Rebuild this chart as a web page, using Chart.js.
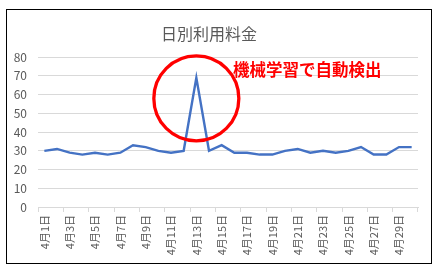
<!DOCTYPE html>
<html>
<head>
<meta charset="utf-8">
<script src="https://cdn.jsdelivr.net/npm/chart.js@4"></script>
<style>
  html, body { margin: 0; padding: 0; background: #fff; }
  #wrap { position: relative; width: 437px; height: 269px; }
</style>
</head>
<body>
<div id="wrap"><canvas id="chart" width="437" height="269"></canvas></div>
<script>
// 日別の料金 (4月1日〜4月30日)
const days = [];
for (let d = 1; d <= 30; d++) days.push('4月' + d + '日');
const fees = [30, 31, 29, 28, 29, 28, 29, 33, 32, 30,
              29, 30, 69, 30, 33, 29, 29, 28, 28, 30,
              31, 29, 30, 29, 30, 32, 28, 28, 32, 32];
const yTicks = [0, 10, 20, 30, 40, 50, 60, 70, 80];
const chartTitle = '日別利用料金';
const noteText = '機械学習で自動検出';
const anomalyIndex = 12;
const circleValue = 58;

const FONT = '"Noto Sans CJK JP", "Noto Sans", sans-serif';

// 外枠・赤丸・注記を描く
const annotate = {
    id: 'annotate',
    afterDraw(chart) {
        const ctx = chart.ctx;
        const x = chart.scales.x.getPixelForValue(anomalyIndex);
        const y = chart.scales.y.getPixelForValue(circleValue);
        ctx.save();
        ctx.strokeStyle = '#ff0000';
        ctx.lineWidth = 3.3;
        ctx.beginPath();
        ctx.arc(x, y, 42.5, 0, Math.PI * 2);
        ctx.stroke();

        ctx.fillStyle = '#ff0000';
        ctx.font = 'bold 16.5px ' + FONT;
        ctx.textBaseline = 'middle';
        ctx.textAlign = 'left';
        ctx.fillText(noteText, 233, 70);

        ctx.strokeStyle = '#000';
        ctx.lineWidth = 1;
        ctx.strokeRect(6.5, 9.5, 425, 254);
        ctx.restore();
    }
};

new Chart(document.getElementById('chart'), {
    type: 'line',
    data: {
        labels: days,
        datasets: [{
            data: fees,
            borderColor: '#4472C4',
            borderWidth: 2.4,
            pointRadius: 0,
            tension: 0,
            fill: false
        }]
    },
    options: {
        responsive: false,
        animation: false,
        layout: { padding: { left: 0, right: 19, top: 0, bottom: 0 } },
        plugins: {
            legend: { display: false },
            tooltip: { enabled: false },
            title: {
                display: true,
                text: chartTitle,
                color: '#595959',
                font: { family: FONT, size: 16, weight: 'normal' },
                padding: { top: 24, bottom: 14 }
            }
        },
        scales: {
            x: {
                offset: true,
                grid: {
                    offset: true,
                    drawOnChartArea: false,
                    tickLength: 5,
                    color: (c) => (c.index === undefined || c.index % 2 === 0) ? '#d9d9d9' : 'rgba(0,0,0,0)'
                },
                border: { color: '#d9d9d9' },
                ticks: {
                    autoSkip: false,
                    maxRotation: 90,
                    minRotation: 90,
                    padding: 3,
                    color: '#595959',
                    font: { family: FONT, size: 11 },
                    callback: function (v, i) { return i % 2 === 0 ? this.getLabelForValue(v) : ''; }
                },
                afterFit: (s) => { s.height = 62; }
            },
            y: {
                min: 0,
                max: 80,
                afterBuildTicks: (s) => { s.ticks = yTicks.map(v => ({ value: v })); },
                grid: { color: '#d9d9d9', drawTicks: false },
                border: { display: false },
                ticks: {
                    padding: 11,
                    color: '#595959',
                    font: { family: FONT, size: 12 }
                },
                afterFit: (s) => { s.width = 38; }
            }
        }
    },
    plugins: [annotate]
});
</script>
</body>
</html>
